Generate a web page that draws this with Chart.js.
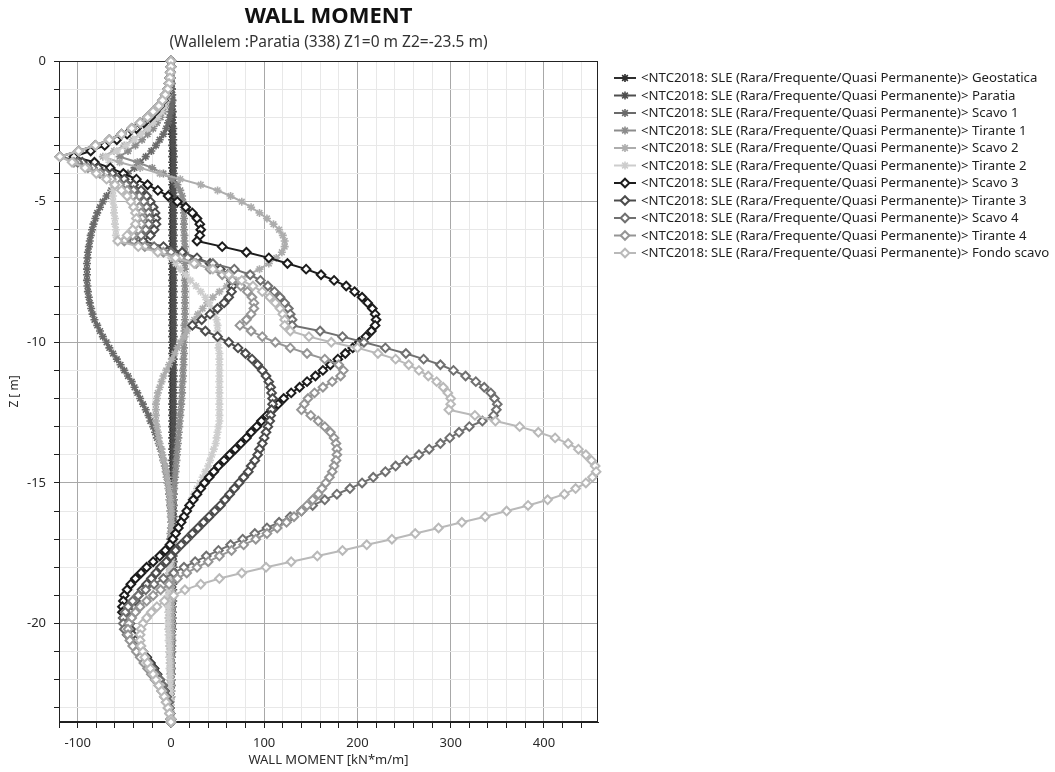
<!DOCTYPE html>
<html>
<head>
<meta charset="utf-8">
<script src="https://cdn.jsdelivr.net/npm/chart.js"></script>
<style>
html,body{margin:0;padding:0;background:#ffffff;}
canvas{display:block;}
</style>
</head>
<body>
<canvas id="c" width="1055" height="772"></canvas>
<script>
// ---------- DATA ----------
const depth = [0,-0.2,-0.4,-0.6,-0.8,-1,-1.2,-1.4,-1.6,-1.8,
 -2,-2.2,-2.4,-2.6,-2.8,-3,-3.2,-3.4,-3.6,-3.8,
 -4,-4.2,-4.4,-4.6,-4.8,-5,-5.2,-5.4,-5.6,-5.8,
 -6,-6.2,-6.4,-6.6,-6.8,-7,-7.2,-7.4,-7.6,-7.8,
 -8,-8.2,-8.4,-8.6,-8.8,-9,-9.2,-9.4,-9.6,-9.8,
 -10,-10.2,-10.4,-10.6,-10.8,-11,-11.2,-11.4,-11.6,-11.8,
 -12,-12.2,-12.4,-12.6,-12.8,-13,-13.2,-13.4,-13.6,-13.8,
 -14,-14.2,-14.4,-14.6,-14.8,-15,-15.2,-15.4,-15.6,-15.8,
 -16,-16.2,-16.4,-16.6,-16.8,-17,-17.2,-17.4,-17.6,-17.8,
 -18,-18.2,-18.4,-18.6,-18.8,-19,-19.2,-19.4,-19.6,-19.8,
 -20,-20.2,-20.4,-20.6,-20.8,-21,-21.2,-21.4,-21.6,-21.8,
 -22,-22.2,-22.4,-22.6,-22.8,-23,-23.2,-23.4,-23.5];

const geostatica = [0,0,0,0,0.5,0.5,0.5,0.5,1,1,
 1,1,1,1,1.5,1.5,1.5,1.5,1.5,1.5,
 1.5,1.5,1.5,1.5,1.5,1.5,1.5,1.5,1.5,1.5,
 1.5,1.5,1.5,1.5,1.5,1.5,1.5,1.5,1.5,1.5,
 1.5,1.5,1.5,1.5,1.5,1.5,1.5,1.5,1.5,1.5,
 1.5,1.5,1.5,1.5,1.5,1.5,1.5,1.5,1.5,1.5,
 1.5,1.5,1.5,1.5,1.5,1.5,1.5,1.5,1.5,1.5,
 1.5,1.5,1.5,1.5,1.5,1.5,1.5,1.5,1.5,1.5,
 1.5,1.5,1.5,1.5,1.5,1.5,1.5,1.5,1.5,1.5,
 1.5,1.5,1,1,1,1,1,1,1,1,
 1,1,1,0.5,0.5,0.5,0.5,0.5,0.5,0.5,
 0.5,0.5,0,0,0,0,0,0,0];

const paratia = [0,0,0,0.5,0.5,1,1,1.5,1.5,2,
 2,2,2.5,2.5,2.5,2.5,3,3,3,3,
 3,3,3,3,3,3,3,3,3,3,
 3,3,3,3,3,3,3,3,3,3,
 3,3,3,3,3,3,3,3,3,3,
 3,3,3,3,3,3,3,3,3,3,
 3,3,3,3,3,3,3,3,3,3,
 3,3,3,3,3,3,3,3,3,3,
 3,3,3,3,3,3,3,3,3,3,
 3,3,3,2.5,2.5,2.5,2.5,2,2,2,
 2,2,1.5,1.5,1.5,1.5,1,1,1,1,
 0.5,0.5,0.5,0.5,0,0,0,0,0];

const scavo1 = [0,0,0,0,0.5,1,1.5,1.5,1,0,
 -1.5,-3,-5,-8,-12,-16,-21,-27,-33,-39,
 -46,-53,-59,-64,-69,-73,-76,-79,-81,-83,
 -84.5,-86,-87,-88,-89,-89.5,-90,-90,-90,-90,
 -89.5,-89,-88,-87,-85.5,-84,-82,-79,-76,-73,
 -69,-66,-62,-58,-54,-50,-46,-42,-39,-36,
 -33,-30,-27,-24,-22,-19,-17,-15,-13,-11,
 -9.5,-8,-6.5,-5.5,-4.5,-3.5,-2.5,-2,-1.5,-1,
 -0.5,0,0.5,0.5,1,1,1,1,1,1,
 1,1,1,1,1,1,1,1,1,1,
 1,1,1,1,0.5,0.5,0.5,0.5,0.5,0.5,
 0.5,0.5,0,0,0,0,0,0,0];

const tirante1 = [0,0,0,-0.5,-0.5,-1.5,-2.5,-4,-5.5,-8,
 -11,-15,-19,-25,-31,-38,-46,-55,-36,-20,
 -8,1,7,10,12,13,13.5,14,14,14,
 14,14.5,14.5,15,15,15,15,15,15,15,
 15,15,15,15,15,15,15,14.5,14.5,14.5,
 14,14,14,13.5,13.5,13,13,12.5,12,12,
 11.5,11,10.5,10,9.5,9,8.5,8,7.5,7,
 6.5,6,5.5,5,4.5,4,3.5,3,2.5,2,
 1.5,1,0.5,0,-0.5,-1,-1,-1.5,-1.5,-2,
 -2,-2,-2,-2,-2,-2,-2,-2,-2,-2,
 -2,-2,-1.5,-1.5,-1.5,-1.5,-1,-1,-1,-1,
 -1,-0.5,-0.5,-0.5,0,0,0,0,0];

const scavo2 = [0,0,0,-0.5,-1,-2,-3,-5,-7.5,-11,
 -15,-20,-26,-33,-41,-50,-61,-73,-55,-33,
 -12,10,32,50,64,76,86,95,103,110,
 116,120,122,122,119,113,105,95,83,70,
 60,52,45,39,34,29,25,21,17,14,
 10,7,4,1,-2,-5,-8,-10,-12,-14,
 -15,-16,-16,-16,-16,-15,-14,-13,-12,-10,
 -9,-8,-6,-5,-4,-3,-2,-1.5,-1,-0.5,
 0,0,0.5,0.5,1,1,1,1,1,1,
 1,1,1,1,1,1,1,1,1,1,
 1,1,1,0.5,0.5,0.5,0.5,0.5,0.5,0.5,
 0.5,0,0,0,0,0,0,0,0];

const tirante2 = [0,0,0,-0.5,-1,-2,-3,-5,-7,-10,
 -14,-19,-25,-32,-39,-48,-58,-70,-66,-64,
 -63,-62,-62,-62,-62,-62,-61,-61,-60,-60,
 -59,-59,-58,-25,-6,0,5,10,16,21,
 27,32,37,41,44,47,49,50,50,51,
 51,51,52,52,52,52,52,52,52,52,
 52,52,52,52,52,51,50,49,48,46,
 44,42,40,37,34,31,28,25,22,19,
 16,13,10,8,6,4,2.5,1,0,-1,
 -1.5,-2,-2.5,-3,-3,-3,-3,-3,-3,-3,
 -3,-3,-2.5,-2.5,-2,-2,-2,-1.5,-1.5,-1,
 -1,-1,-0.5,-0.5,0,0,0,0,0];

const scavo3 = [0,0,-0.5,-1,-2,-3,-5,-8,-12,-17,
 -22,-29,-37,-47,-58,-71,-86,-104,-82,-65,
 -51,-37,-25,-14,-3,7,16,23,28,31,
 32,31,28,55,81,105,125,145,161,175,
 188,197,205,211,216,219,220,219,215,209,
 202,195,187,179,171,163,155,146,138,129,
 121,115,109,103,97,92,86,81,75,69,
 63,57,51,46,41,36,32,28,24,20,
 17,14,11,8,5,2,-1,-6,-12,-19,
 -26,-32,-38,-43,-47,-50,-51,-52,-52,-51,
 -49,-46,-42,-38,-34,-30,-26,-22,-18,-15,
 -12,-9,-7,-5,-3,-2,-1,0,0];

const tirante3 = [0,0,-0.5,-1,-2,-3.5,-6,-9,-13,-19,
 -25,-33,-42,-53,-66,-81,-99,-119,-95,-78,
 -63,-50,-40,-32,-26,-22,-19,-17,-16,-16,
 -18,-22,-30,-8,12,28,42,53,61,65,
 66,65,62,57,50,42,33,23,37,50,
 62,72,80,87,93,98,102,105,107,108,
 109,109,108,107,106,104,102,100,98,95,
 93,90,86,83,78,73,68,63,58,53,
 47,41,35,29,23,17,11,5,0,-5,
 -11,-16,-21,-26,-31,-35,-38,-41,-43,-44,
 -44,-43,-41,-38,-35,-31,-27,-23,-19,-15,
 -12,-9,-7,-5,-3,-2,-1,0,0];

const scavo4 = [0,0,-0.5,-1,-2,-3.5,-6,-9,-13,-19,
 -25,-33,-42,-53,-66,-81,-99,-119,-100,-84,
 -70,-58,-48,-40,-34,-29,-26,-24,-23,-24,
 -27,-32,-40,-18,0,18,45,68,85,96,
 104,111,117,122,126,128,130,130,160,184,
 207,230,252,271,289,303,316,327,336,343,
 347,350,349,346,334,320,309,299,289,277,
 266,253,241,230,217,205,192,178,165,152,
 140,128,116,103,90,77,64,51,38,26,
 14,3,-8,-18,-27,-35,-41,-46,-49,-51,
 -51,-50,-47,-43,-38,-33,-28,-24,-20,-16,
 -12,-9,-7,-5,-3,-2,-1,0,0];

const tirante4 = [0,0,-0.5,-1,-2,-3.5,-6,-9,-13,-19,
 -25,-33,-42,-53,-66,-81,-99,-119,-104,-89,
 -76,-64,-55,-47,-41,-37,-34,-32,-31,-32,
 -35,-41,-50,-28,-8,10,27,42,55,66,
 75,82,87,89,89,86,81,74,86,98,
 112,128,146,165,180,185,182,173,163,154,
 147,143,140,150,158,165,171,175,177,178,
 178,177,175,173,170,166,162,158,152,146,
 140,132,124,114,103,91,78,65,52,40,
 28,17,7,-2,-11,-19,-26,-33,-38,-42,
 -45,-46,-46,-44,-41,-37,-33,-29,-25,-21,
 -17,-13,-10,-7,-5,-3,-1,0,0];

const fondoScavo = [0,0,-0.5,-1,-2,-3.5,-6,-9,-13,-19,
 -25,-33,-42,-53,-66,-81,-99,-119,-106,-92,
 -80,-69,-60,-53,-47,-43,-40,-38,-37,-38,
 -41,-47,-57,-35,-14,5,25,45,62,76,
 88,98,106,112,117,120,122,122,128,148,
 172,200,222,241,255,266,276,285,292,297,
 300,300,298,326,348,374,394,412,426,437,
 445,451,455,456,452,445,434,422,404,383,
 360,337,312,287,262,237,210,184,157,129,
 102,76,52,32,15,3,-7,-15,-21,-26,
 -30,-32,-33,-33,-32,-30,-28,-25,-22,-19,
 -16,-13,-10,-7,-5,-3,-1.5,0,0];

const seriesLabels = [
 '<NTC2018: SLE (Rara/Frequente/Quasi Permanente)> Geostatica',
 '<NTC2018: SLE (Rara/Frequente/Quasi Permanente)> Paratia',
 '<NTC2018: SLE (Rara/Frequente/Quasi Permanente)> Scavo 1',
 '<NTC2018: SLE (Rara/Frequente/Quasi Permanente)> Tirante 1',
 '<NTC2018: SLE (Rara/Frequente/Quasi Permanente)> Scavo 2',
 '<NTC2018: SLE (Rara/Frequente/Quasi Permanente)> Tirante 2',
 '<NTC2018: SLE (Rara/Frequente/Quasi Permanente)> Scavo 3',
 '<NTC2018: SLE (Rara/Frequente/Quasi Permanente)> Tirante 3',
 '<NTC2018: SLE (Rara/Frequente/Quasi Permanente)> Scavo 4',
 '<NTC2018: SLE (Rara/Frequente/Quasi Permanente)> Tirante 4',
 '<NTC2018: SLE (Rara/Frequente/Quasi Permanente)> Fondo scavo'
];
const seriesValues = [geostatica, paratia, scavo1, tirante1, scavo2, tirante2,
                      scavo3, tirante3, scavo4, tirante4, fondoScavo];

const chartTitle = 'WALL MOMENT';
const chartSubtitle = '(Wallelem :Paratia (338) Z1=0 m Z2=-23.5 m)';
const xTitle = 'WALL MOMENT [kN*m/m]';
const yTitle = 'Z [ m]';

// ---------- STYLE ----------
const FONT = '"Noto Sans", "Open Sans", "DejaVu Sans", sans-serif';
const lineColors = ['#2e2e2e','#4f4f4f','#6a6a6a','#8c8c8c','#adadad','#cdcdcd',
                    '#1c1c1c','#4c4c4c','#707070','#959595','#b9b9b9'];
const markers = ['star','star','star','star','star','star',
                 'rectRot','rectRot','rectRot','rectRot','rectRot'];

const datasets = seriesValues.map((vals, i) => ({
  label: seriesLabels[i],
  data: depth.map((z, k) => ({x: vals[k], y: z})),
  showLine: true,
  borderColor: lineColors[i],
  backgroundColor: markers[i] === 'rectRot' ? '#ffffff' : lineColors[i],
  borderWidth: 2,
  pointStyle: markers[i],
  pointRadius: markers[i] === 'rectRot' ? 4.3 : 4,
  pointBorderWidth: markers[i] === 'rectRot' ? 2 : 1.6,
  pointBorderColor: lineColors[i],
  pointBackgroundColor: markers[i] === 'rectRot' ? '#ffffff' : lineColors[i],
  order: seriesValues.length - i,
  clip: false,
  tension: 0
}));

function drawMarker(ctx, style, x, y, color) {
  ctx.save();
  ctx.strokeStyle = color;
  if (style === 'star') {
    const r = 4, d = r * Math.SQRT1_2;
    ctx.lineWidth = 1.6;
    ctx.beginPath();
    ctx.moveTo(x - r, y); ctx.lineTo(x + r, y);
    ctx.moveTo(x, y - r); ctx.lineTo(x, y + r);
    ctx.moveTo(x - d, y - d); ctx.lineTo(x + d, y + d);
    ctx.moveTo(x - d, y + d); ctx.lineTo(x + d, y - d);
    ctx.stroke();
  } else {
    const r = 4.3;
    ctx.lineWidth = 2;
    ctx.fillStyle = '#ffffff';
    ctx.beginPath();
    ctx.moveTo(x, y - r); ctx.lineTo(x + r, y); ctx.lineTo(x, y + r); ctx.lineTo(x - r, y);
    ctx.closePath();
    ctx.fill(); ctx.stroke();
  }
  ctx.restore();
}

const sideLegend = {
  id: 'sideLegend',
  afterDraw(chart) {
    const ctx = chart.ctx;
    ctx.save();
    ctx.font = '13.2px ' + FONT;
    ctx.textBaseline = 'middle';
    ctx.textAlign = 'left';
    chart.data.datasets.forEach((ds, i) => {
      const y = 78 + i * 17.5;
      ctx.strokeStyle = ds.borderColor;
      ctx.lineWidth = 2;
      ctx.beginPath(); ctx.moveTo(614, y); ctx.lineTo(636, y); ctx.stroke();
      drawMarker(ctx, ds.pointStyle, 625, y, ds.borderColor);
      ctx.fillStyle = '#1e1e1e';
      ctx.fillText(ds.label, 641, y + 0.5);
    });
    ctx.restore();
  }
};

const frame = {
  id: 'frame',
  beforeDatasetsDraw(chart) {
    const a = chart.chartArea, ctx = chart.ctx;
    ctx.save();
    ctx.strokeStyle = '#222222';
    ctx.lineWidth = 1;
    ctx.strokeRect(Math.round(a.left) + 0.5, Math.round(a.top) + 0.5,
                   Math.round(a.right - a.left) - 1, Math.round(a.bottom - a.top) - 1);
    ctx.restore();
  }
};

new Chart(document.getElementById('c'), {
  type: 'scatter',
  data: { datasets },
  plugins: [frame, sideLegend],
  options: {
    responsive: false,
    animation: false,
    events: [],
    layout: { padding: { left: 0, right: 457, top: 0, bottom: 0 } },
    plugins: {
      legend: { display: false },
      tooltip: { enabled: false },
      title: {
        display: true, text: chartTitle, color: '#111111', fullSize: false,
        font: { family: FONT, size: 22, weight: 'bold' },
        padding: { top: 4, bottom: 0 }
      },
      subtitle: {
        display: true, text: chartSubtitle, color: '#333333', fullSize: false,
        font: { family: FONT, size: 15.5 },
        padding: { top: 3, bottom: 9 }
      }
    },
    scales: {
      x: {
        type: 'linear', position: 'bottom', min: -120, max: 458,
        border: { display: true, color: '#1e1e1e', width: 1 },
        grid: {
          color: c => (c.tick && Math.round(c.tick.value) % 100 === 0) ? '#a8a8a8' : '#e8e8e8',
          lineWidth: 1, drawTicks: true, tickLength: 6, tickColor: '#1e1e1e', tickWidth: 1
        },
        ticks: {
          stepSize: 20, includeBounds: false, autoSkip: false, maxRotation: 0,
          color: '#2a2a2a', font: { family: FONT, size: 13 }, padding: 7,
          callback: v => (Math.round(v) % 100 === 0 ? String(Math.round(v)) : '')
        },
        title: {
          display: true, text: xTitle, color: '#2a2a2a',
          font: { family: FONT, size: 13 }, padding: { top: 0, bottom: 4 }
        },
        afterFit: s => { s.height = 50; }
      },
      y: {
        type: 'linear', position: 'left', min: -23.5, max: 0,
        border: { display: true, color: '#1e1e1e', width: 1 },
        grid: {
          color: c => (c.tick && Math.round(c.tick.value) % 5 === 0) ? '#a8a8a8' : '#e8e8e8',
          lineWidth: 1, drawTicks: true, tickLength: 5, tickColor: '#1e1e1e', tickWidth: 1
        },
        ticks: {
          stepSize: 1, includeBounds: false, autoSkip: false,
          color: '#2a2a2a', font: { family: FONT, size: 13 }, padding: 8,
          callback: v => (Math.round(v) % 5 === 0 ? String(Math.round(v)) : '')
        },
        title: {
          display: true, text: yTitle, color: '#2a2a2a',
          font: { family: FONT, size: 12 }, padding: { top: 7, bottom: 0 }
        },
        afterFit: s => { s.width = 59; }
      }
    }
  }
});
</script>
</body>
</html>
